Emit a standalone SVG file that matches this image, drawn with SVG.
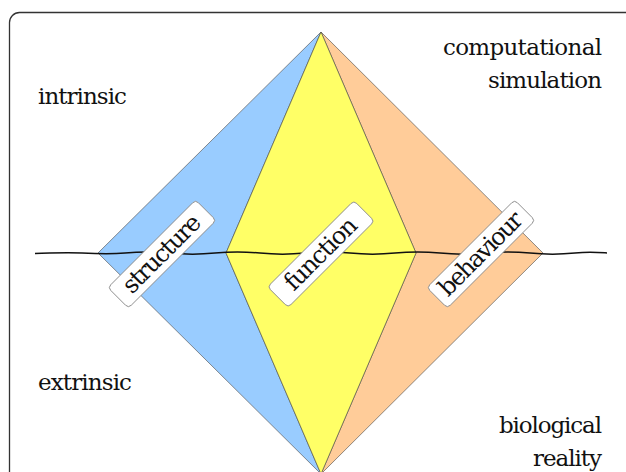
<svg xmlns="http://www.w3.org/2000/svg" width="626" height="472" viewBox="0 0 626 472">
<style>
.t{font-family:'DejaVu Serif',serif;font-size:23px;fill:#111}
.r{text-anchor:end}
.lbl rect{fill:#fff;stroke:#888;stroke-width:0.9}
.lbl text{text-anchor:middle;font-size:24px}
.face{stroke:#444;stroke-width:0.6;stroke-linejoin:round}
</style>
<rect x="9.5" y="12.5" width="700" height="520" rx="10" fill="#fff" stroke="#333" stroke-width="1.3"/>
<g id="regions">
<polygon id="structure-region" class="face" fill="#99ccff" points="321,32 98,253 321,474 226,253"/>
<polygon id="behaviour-region" class="face" fill="#ffcc99" points="321,32 543,253 321,474 416,253"/>
<polygon id="function-region" class="face" fill="#ffff66" points="321,32 226,253 321,474 416,253"/>
</g>
<g id="connectors">
<path d="M35,253.5 C55,253 65,252 82,253 S110,254.5 125,253 S155,251.5 170,253 S200,254.5 215,253 S245,251.5 260,253 S290,254.5 305,253 S335,251.5 350,253 S380,254.5 395,253 S425,251.5 440,253 S470,254.5 485,253 S515,251.5 530,253 S560,254.5 575,253 S600,252.5 607,253" fill="none" stroke="#111" stroke-width="1.5"/>
</g>
<g id="intrinsic"><text class="t" x="38" y="104" textLength="89">intrinsic</text></g>
<g id="extrinsic"><text class="t" x="38" y="390" textLength="94">extrinsic</text></g>
<g id="computational-simulation">
<text class="t r" x="602" y="55" textLength="159">computational</text>
<text class="t r" x="602" y="88" textLength="114">simulation</text>
</g>
<g id="biological-reality">
<text class="t r" x="602" y="433" textLength="103">biological</text>
<text class="t r" x="602" y="466" textLength="69">reality</text>
</g>
<g id="structure" class="lbl" transform="translate(162,254) rotate(-45)">
<rect x="-62" y="-14.5" width="124" height="29" rx="4"/>
<text class="t" x="0" y="7.5" textLength="100">structure</text>
</g>
<g id="function" class="lbl" transform="translate(321,254) rotate(-45)">
<rect x="-61" y="-14.5" width="122" height="29" rx="4"/>
<text class="t" x="0" y="7.5" textLength="92">function</text>
</g>
<g id="behaviour" class="lbl" transform="translate(481,254) rotate(-45)">
<rect x="-62" y="-14.5" width="124" height="29" rx="4"/>
<text class="t" x="0" y="7.5" textLength="108">behaviour</text>
</g>
</svg>
